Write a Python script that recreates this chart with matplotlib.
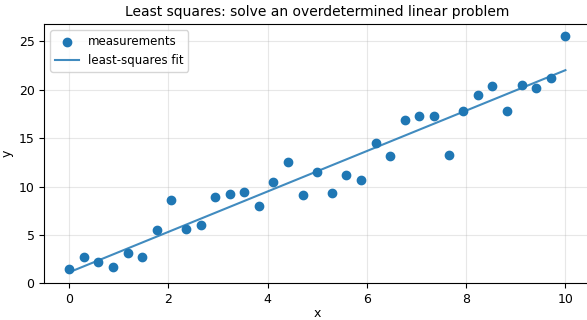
import numpy as np
import matplotlib
matplotlib.use("Agg")
import matplotlib.pyplot as plt

# Measured samples on an evenly spaced grid
x = np.linspace(0, 10, 35)
y = np.array([
    1.47, 2.72, 2.20, 1.65, 3.17, 2.72, 5.48, 8.61, 5.65, 6.03,
    8.89, 9.23, 9.41, 8.03, 10.44, 12.51, 9.10, 11.54, 9.30, 11.17,
    10.68, 14.54, 13.13, 16.89, 17.30, 17.27, 13.24, 17.82, 19.47, 20.40,
    17.79, 20.50, 20.20, 21.20, 25.54,
])

# Solve the overdetermined system A @ [m, c] = y
A = np.column_stack([x, np.ones_like(x)])
(m, c), *_ = np.linalg.lstsq(A, y, rcond=None)

fig = plt.figure(figsize=(5.87, 3.2), dpi=100)
ax = fig.add_axes([0.0755, 0.1147, 0.93, 0.8093])

ax.scatter(x, y, s=36, color="#1f77b4", label="measurements", zorder=3)
ax.plot(x, m * x + c, color="#1f77b4", alpha=0.85, lw=1.5, label="least-squares fit")

ax.set_ylim(bottom=0)
ax.set_xlabel("x", fontsize=9, labelpad=1)
ax.set_ylabel("y", fontsize=9)
ax.set_title("Least squares: solve an overdetermined linear problem", fontsize=10)
ax.grid(True, alpha=0.3)
ax.tick_params(labelsize=9)
ax.legend(loc="upper left", fontsize=8.5)

fig.savefig("out.png", dpi=100)
